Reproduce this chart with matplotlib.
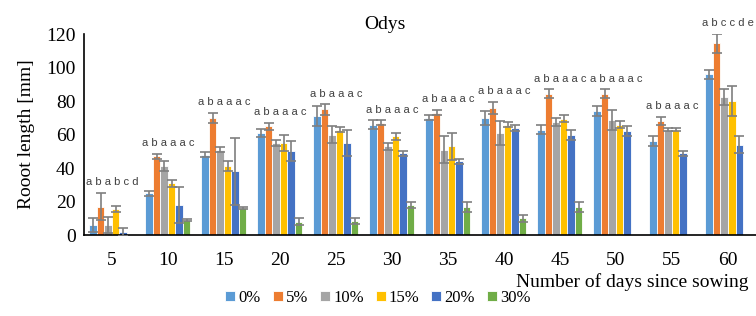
import numpy as np
import matplotlib.pyplot as plt

days = ['5', '10', '15', '20', '25', '30', '35', '40', '45', '50', '55', '60']
series = ['0%', '5%', '10%', '15%', '20%', '30%']
colors = ['#5B9BD5', '#ED7D31', '#A5A5A5', '#FFC000', '#4472C4', '#70AD47']

# mean root length [mm] per concentration
means = {
    '0%':  [6, 25, 48, 61, 71, 66, 70, 70, 63, 74, 56, 96],
    '5%':  [17, 47, 70, 65, 75, 67, 73, 76, 84.5, 84.5, 68, 114.5],
    '10%': [6, 41, 51, 55, 60, 53, 51, 61, 67.5, 68.5, 63, 82.5],
    '15%': [15.5, 31, 41, 55, 63, 59, 53, 66, 69.5, 66, 63, 80],
    '20%': [2, 18, 38, 50, 55, 49, 44, 64, 60, 62, 49, 54],
    '30%': [0, 9, 16, 8, 8.5, 18, 17, 10, 17, 0, 0, 0],
}
errs = {
    '0%':  [4, 1.5, 1.5, 2.5, 6, 2.5, 1.5, 4, 2.5, 3, 3, 2.5],
    '5%':  [8, 1.5, 3, 2, 3, 1.5, 1.5, 3.5, 2.5, 2.5, 2.5, 5.5],
    '10%': [5, 3, 1.5, 2, 5, 2, 8, 7, 2.5, 6, 1, 5],
    '15%': [2, 2, 3, 5, 1.5, 2, 8, 1.5, 2, 2, 1, 9],
    '20%': [2.5, 11, 20, 6, 8, 1.5, 1.5, 2, 3, 3, 1.5, 5],
    '30%': [0, 0.5, 0.5, 2, 2, 2, 3, 2, 3, 0, 0, 0],
}
letters = ['a b a b c d'] + ['a b a a a c'] * 10 + ['a b c c d e']

plt.rcParams['font.family'] = ['Liberation Serif', 'DejaVu Serif']

fig = plt.figure(figsize=(7.56, 3.16), dpi=100)
ax = fig.add_axes([0.111, 0.256, 0.889, 0.636])

x = np.arange(len(days))
w = 0.134
tops = np.zeros(len(days))
for i, s in enumerate(series):
    pos = x + (i - 2.5) * w
    m = np.array(means[s])
    e = np.array(errs[s])
    ax.bar(pos, m, width=w, color=colors[i], edgecolor='white', linewidth=0.6,
           label=s, zorder=2)
    show = m > 0
    ax.errorbar(pos[show], m[show], yerr=e[show], fmt='none', ecolor='#7F7F7F',
                elinewidth=1.2, capsize=3.5, capthick=1.2, zorder=3)
    tops = np.maximum(tops, m + e)

for xi, t, lab in zip(x, tops, letters):
    ax.text(xi, t + 3.5, lab, ha='center', va='bottom', fontsize=8,
            family='Liberation Sans', color='#404040', clip_on=False)

ax.set_xlim(-0.5, len(days) - 0.5)
ax.set_ylim(0, 120)
ax.set_yticks(range(0, 121, 20))
ax.set_xticks(x)
ax.set_xticklabels(days)
ax.tick_params(axis='both', length=0, labelsize=14)
ax.tick_params(axis='x', pad=12)
ax.tick_params(axis='y', pad=6)
for sp in ['top', 'right']:
    ax.spines[sp].set_visible(False)
ax.spines['left'].set_linewidth(1.2)
ax.spines['bottom'].set_linewidth(1.2)

ax.set_ylabel('Rooot length [mm]', fontsize=14, labelpad=8)
fig.text(0.509, 0.924, 'Odys', ha='center', va='center', fontsize=14)
fig.text(0.99, 0.108, 'Number of days since sowing', ha='right',
         va='center', fontsize=14)

fig.legend(loc='center', bbox_to_anchor=(0.5, 0.057), ncol=6, frameon=False,
           fontsize=12, handlelength=0.6, handleheight=0.6, handletextpad=0.2,
           columnspacing=0.7)

fig.savefig('out.png', dpi=100)
